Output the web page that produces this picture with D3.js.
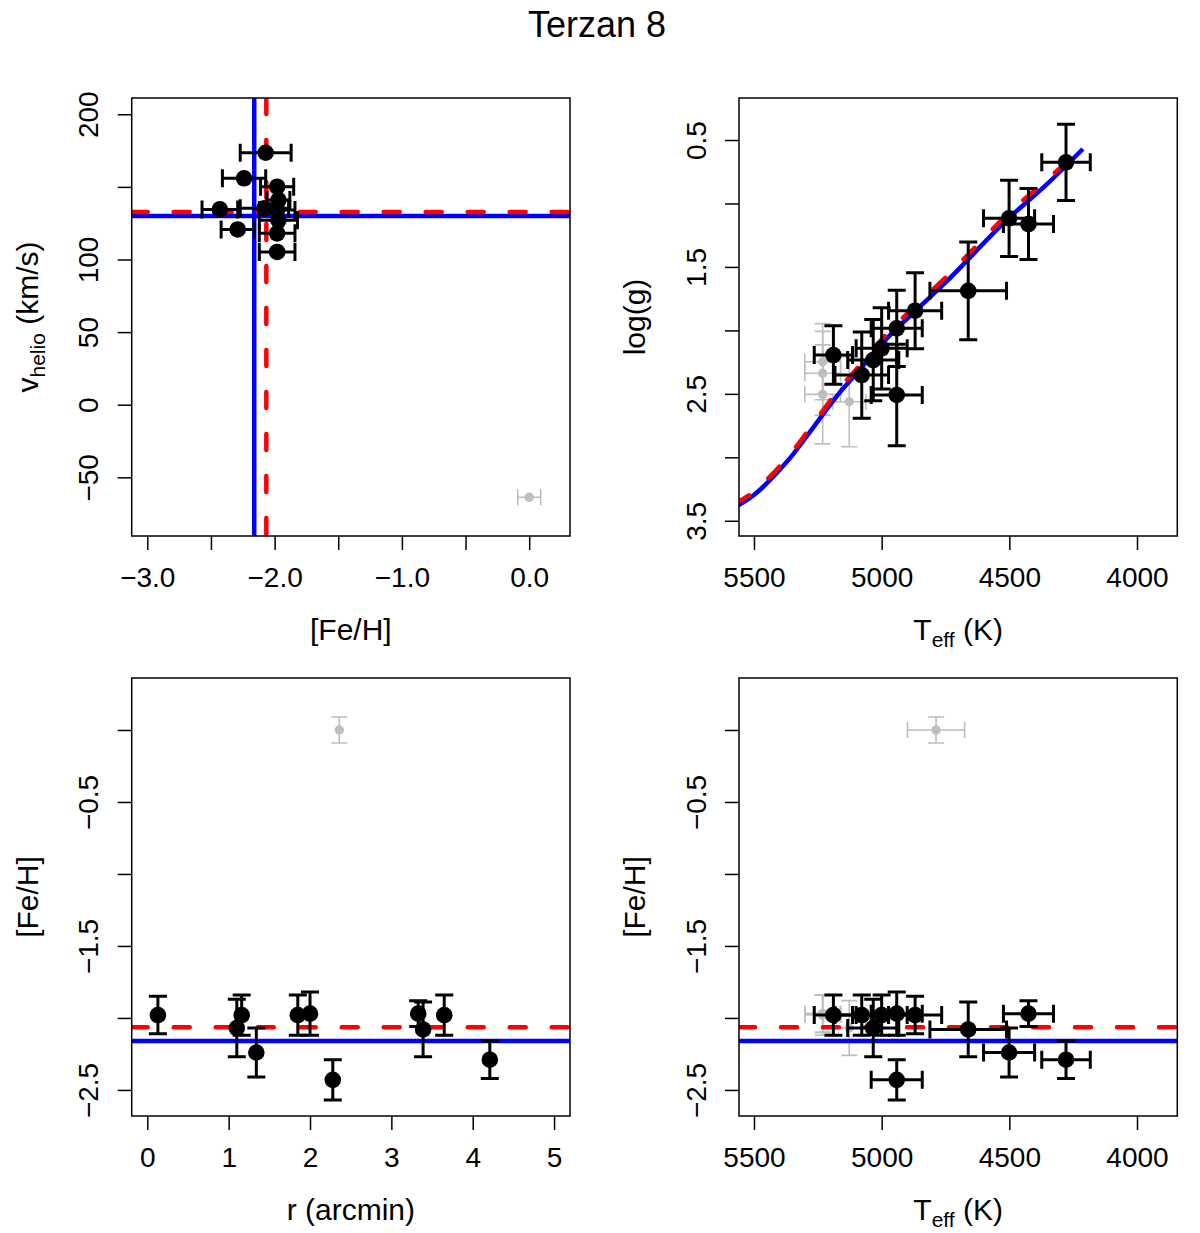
<!DOCTYPE html>
<html>
<head>
<meta charset="utf-8">
<script src="https://cdn.jsdelivr.net/npm/d3@7"></script>
<style>
  body { margin: 0; background: #fff; }
  text { font-family: "Liberation Sans", Arial, Helvetica, sans-serif; }
</style>
</head>
<body>
<svg id="chart" width="1200" height="1233"></svg>
<script>
// member stars (black)
const teff    = [4278, 4501, 4425, 4661, 4869, 4941, 5000, 5033, 5078, 5189, 4941];
const teffErr = [95, 100, 98, 150, 104, 100, 100, 100, 105, 75, 100];
const logg    = [0.676, 1.117, 1.162, 1.688, 1.845, 1.984, 2.141, 2.234, 2.352, 2.194, 2.509];
const loggErr = [0.30, 0.30, 0.28, 0.385, 0.30, 0.30, 0.32, 0.32, 0.34, 0.23, 0.40];
const feh     = [-2.29, -2.24, -1.97, -2.08, -1.98, -1.97, -1.98, -2.07, -1.98, -1.98, -2.43];
const fehErr  = [0.13, 0.17, 0.09, 0.19, 0.13, 0.15, 0.14, 0.20, 0.14, 0.14, 0.14];
const rad     = [4.21, 1.34, 3.33, 3.39, 0.13, 2.00, 1.85, 1.10, 1.16, 3.65, 2.28];
const vhelio  = [120.7, 155.9, 140.9, 135.2, 150.1, 127.0, 118.0, 173.5, 134.0, 105.2, 134.5];

// rejected stars (grey)
const gTeff    = [5231, 5231, 5231, 5127, 4787];
const gTeffErr = [70, 70, 70, 65, 112];
const gLogg    = [2.247, 2.338, 2.504, 2.562, null];
const gLoggErr = [0.30, 0.33, 0.39, 0.355, null];
const gFeh     = [-1.97, -1.97, -1.98, -2.07, 0.0];
const gFehErr  = [0.13, 0.13, 0.14, 0.19, 0.09];
const gRad     = [null, null, null, null, 2.36];
const gV       = [null, null, null, null, -63.7];

// cluster means (red dashed / blue solid)
const fehRed = -2.065, fehBlue = -2.16;
const vRed = 132.7, vBlue = 130.0;

// isochrones in the log(g) - Teff panel
const isoTeff  = [5574, 5516, 5457, 5359, 5261, 5163, 5097, 5034, 4967, 4877, 4744, 4510, 4360, 4212];
const isoLogg  = [3.392, 3.321, 3.219, 3.006, 2.746, 2.486, 2.336, 2.186, 2.037, 1.863, 1.611, 1.130, 0.862, 0.571];
const iso2Teff = [5574, 5516, 5457, 5359, 5261, 5163, 5097, 5034, 4967, 4877, 4744, 4510, 4360, 4227];
const iso2Logg = [3.365, 3.294, 3.192, 2.978, 2.716, 2.454, 2.302, 2.150, 2.000, 1.825, 1.572, 1.092, 0.825, 0.590];

// axis ticks
const fehXTicks = [-3, -2.5, -2, -1.5, -1, -0.5, 0], fehXLab = [-3, -2, -1, 0];
const vTicks = [-50, 0, 50, 100, 150, 200], vLab = [-50, 0, 50, 100, 200];
const teffTicks = [5500, 5000, 4500, 4000];
const loggTicks = [0.5, 1, 1.5, 2, 2.5, 3, 3.5], loggLab = [0.5, 1.5, 2.5, 3.5];
const rTicks = [0, 1, 2, 3, 4, 5];
const fehYTicks = [0, -0.5, -1, -1.5, -2, -2.5], fehYLab = [-0.5, -1.5, -2.5];

const svg = d3.select("#chart");
const BLACK = "#000", GREY = "#bebebe";
const LAB = 30;

svg.append("text")
  .attr("x", 597).attr("y", 37)
  .attr("text-anchor", "middle")
  .attr("font-size", 36)
  .text("Terzan 8");

const left = [131.7, 570], right = [739, 1177.3];
const top_ = [98, 536], bot = [678, 1116];

function makePanel(id, bx, by, sx, sy) {
  const g = svg.append("g");
  g.append("clipPath").attr("id", "clip-" + id)
    .append("rect")
    .attr("x", bx[0]).attr("y", by[0])
    .attr("width", bx[1] - bx[0]).attr("height", by[1] - by[0]);
  const plot = g.append("g").attr("clip-path", `url(#clip-${id})`);
  return { g, plot, bx, by, sx, sy };
}

function xAxis(p, ticks, labeled, fmt) {
  p.g.append("g")
    .attr("transform", `translate(0,${p.by[1]})`)
    .call(d3.axisBottom(p.sx).tickValues(ticks).tickSize(14).tickPadding(17)
      .tickFormat(d => labeled.includes(d) ? fmt(d) : ""))
    .call(a => a.select(".domain").remove())
    .call(a => a.selectAll("line").attr("stroke", BLACK).attr("stroke-width", 1.5))
    .call(a => a.selectAll("text").attr("fill", BLACK).attr("font-size", 28)
      .attr("font-family", null));
}

function yAxis(p, ticks, labeled, fmt) {
  p.g.append("g")
    .attr("transform", `translate(${p.bx[0]},0)`)
    .call(d3.axisLeft(p.sy).tickValues(ticks).tickSize(14)
      .tickFormat(d => labeled.includes(d) ? fmt(d) : ""))
    .call(a => a.select(".domain").remove())
    .call(a => a.selectAll("line").attr("stroke", BLACK).attr("stroke-width", 1.5))
    .call(a => a.selectAll("text").attr("fill", BLACK).attr("font-size", 28)
      .attr("font-family", null)
      .attr("x", 0).attr("y", -33.5).attr("dy", null)
      .attr("text-anchor", "middle")
      .attr("transform", "rotate(-90)"));
}

function frame(p) {
  p.g.append("rect")
    .attr("x", p.bx[0]).attr("y", p.by[0])
    .attr("width", p.bx[1] - p.bx[0]).attr("height", p.by[1] - p.by[0])
    .attr("fill", "none").attr("stroke", BLACK).attr("stroke-width", 1.5);
}

function xTitle(p, build) {
  const t = p.g.append("text")
    .attr("x", (p.bx[0] + p.bx[1]) / 2).attr("y", p.by[1] + 104)
    .attr("text-anchor", "middle").attr("font-size", LAB);
  build(t);
}

function yTitle(p, build) {
  const t = p.g.append("text")
    .attr("transform", `translate(${p.bx[0] - 94},${(p.by[0] + p.by[1]) / 2}) rotate(-90)`)
    .attr("text-anchor", "middle").attr("font-size", LAB);
  build(t);
}

function sub(main, subs, rest) {
  return t => {
    t.append("tspan").text(main);
    t.append("tspan").attr("font-size", 21).attr("dy", 7).text(subs);
    t.append("tspan").attr("dy", -7).text(rest);
  };
}

// points: arrays of {x, y, xe, ye}
function stars(p, pts, colour, lw, cap, rad) {
  const sx = p.sx, sy = p.sy;
  p.plot.append("g").selectAll("path")
    .data(pts)
    .join("path")
    .attr("fill", "none").attr("stroke", colour).attr("stroke-width", lw)
    .attr("d", d => {
      const cx = sx(d.x), cy = sy(d.y);
      let s = "";
      if (d.xe) {
        const a = sx(d.x - d.xe), b = sx(d.x + d.xe);
        s += `M${a},${cy}H${b}M${a},${cy - cap}V${cy + cap}M${b},${cy - cap}V${cy + cap}`;
      }
      if (d.ye) {
        const a = sy(d.y - d.ye), b = sy(d.y + d.ye);
        s += `M${cx},${a}V${b}M${cx - cap},${a}H${cx + cap}M${cx - cap},${b}H${cx + cap}`;
      }
      return s;
    });
  p.plot.append("g").selectAll("circle")
    .data(pts)
    .join("circle")
    .attr("cx", d => sx(d.x)).attr("cy", d => sy(d.y))
    .attr("r", rad).attr("fill", colour);
}

function hLine(p, v, colour, dashed) {
  p.plot.append("line")
    .attr("x1", p.bx[0]).attr("x2", p.bx[1])
    .attr("y1", p.sy(v)).attr("y2", p.sy(v))
    .attr("stroke", colour).attr("stroke-width", 4.5)
    .attr("stroke-dasharray", dashed ? "16,26" : null)
    .attr("stroke-linecap", dashed ? "round" : "butt");
}

function vLine(p, v, colour, dashed) {
  p.plot.append("line")
    .attr("y1", p.by[0]).attr("y2", p.by[1])
    .attr("x1", p.sx(v)).attr("x2", p.sx(v))
    .attr("stroke", colour).attr("stroke-width", 4.5)
    .attr("stroke-dasharray", dashed ? "16,26" : null)
    .attr("stroke-linecap", dashed ? "round" : "butt");
}

const idx = d3.range(teff.length);
const gIdx = d3.range(gTeff.length);
const fmt1 = d3.format(".1f"), fmtD = d3.format("d");

// ---- top left: v_helio vs [Fe/H]
const p1 = makePanel("p1", left, top_,
  d3.scaleLinear().domain([-3.1225, 0.3205]).range(left),
  d3.scaleLinear().domain([-90.4, 211.2]).range([top_[1], top_[0]]));
stars(p1, gIdx.filter(i => gV[i] != null).map(i => ({ x: gFeh[i], y: gV[i], xe: gFehErr[i] })), GREY, 1.6, 8, 4.7);
hLine(p1, vBlue, "#0000ff", false);
vLine(p1, fehBlue, "#0000ff", false);
hLine(p1, vRed, "#ff0000", true);
vLine(p1, fehRed, "#ff0000", true);
stars(p1, idx.map(i => ({ x: feh[i], y: vhelio[i], xe: fehErr[i] })), BLACK, 3, 9, 8.3);
frame(p1);
xAxis(p1, fehXTicks, fehXLab, fmt1);
yAxis(p1, vTicks, vLab, fmtD);
xTitle(p1, t => t.text("[Fe/H]"));
yTitle(p1, sub("v", "helio", " (km/s)"));

// ---- top right: log(g) vs Teff
const p2 = makePanel("p2", right, top_,
  d3.scaleLinear().domain([5558.7, 3842.2]).range(right),
  d3.scaleLinear().domain([0.169, 3.62]).range(top_));
stars(p2, gIdx.filter(i => gLogg[i] != null).map(i => ({ x: gTeff[i], y: gLogg[i], xe: gTeffErr[i], ye: gLoggErr[i] })), GREY, 1.6, 8, 4.7);
const iso = d3.line().curve(d3.curveCatmullRom).x(d => p2.sx(d[0])).y(d => p2.sy(d[1]));
p2.plot.append("path")
  .attr("d", iso(isoTeff.map((t, i) => [t, isoLogg[i]])))
  .attr("fill", "none").attr("stroke", "#0000ff").attr("stroke-width", 4.5);
p2.plot.append("path")
  .attr("d", iso(iso2Teff.map((t, i) => [t, iso2Logg[i]])))
  .attr("fill", "none").attr("stroke", "#ff0000").attr("stroke-width", 4.5)
  .attr("stroke-dasharray", "16,26").attr("stroke-linecap", "round");
stars(p2, idx.map(i => ({ x: teff[i], y: logg[i], xe: teffErr[i], ye: loggErr[i] })), BLACK, 3, 9, 8.3);
frame(p2);
xAxis(p2, teffTicks, teffTicks, fmtD);
yAxis(p2, loggTicks, loggLab, fmt1);
xTitle(p2, sub("T", "eff", " (K)"));
yTitle(p2, t => t.text("log(g)"));

// ---- bottom left: [Fe/H] vs r
const p3 = makePanel("p3", left, bot,
  d3.scaleLinear().domain([-0.192, 5.196]).range(left),
  d3.scaleLinear().domain([-2.681, 0.361]).range([bot[1], bot[0]]));
stars(p3, gIdx.filter(i => gRad[i] != null).map(i => ({ x: gRad[i], y: gFeh[i], ye: gFehErr[i] })), GREY, 1.6, 8, 4.7);
hLine(p3, fehBlue, "#0000ff", false);
hLine(p3, fehRed, "#ff0000", true);
stars(p3, idx.map(i => ({ x: rad[i], y: feh[i], ye: fehErr[i] })), BLACK, 3, 9, 8.3);
frame(p3);
xAxis(p3, rTicks, rTicks, fmtD);
yAxis(p3, fehYTicks, fehYLab, fmt1);
xTitle(p3, t => t.text("r (arcmin)"));
yTitle(p3, t => t.text("[Fe/H]"));

// ---- bottom right: [Fe/H] vs Teff
const p4 = makePanel("p4", right, bot,
  d3.scaleLinear().domain([5558.7, 3842.2]).range(right),
  d3.scaleLinear().domain([-2.681, 0.361]).range([bot[1], bot[0]]));
stars(p4, gIdx.map(i => ({ x: gTeff[i], y: gFeh[i], xe: gTeffErr[i], ye: gFehErr[i] })), GREY, 1.6, 8, 4.7);
hLine(p4, fehBlue, "#0000ff", false);
hLine(p4, fehRed, "#ff0000", true);
stars(p4, idx.map(i => ({ x: teff[i], y: feh[i], xe: teffErr[i], ye: fehErr[i] })), BLACK, 3, 9, 8.3);
frame(p4);
xAxis(p4, teffTicks, teffTicks, fmtD);
yAxis(p4, fehYTicks, fehYLab, fmt1);
xTitle(p4, sub("T", "eff", " (K)"));
yTitle(p4, t => t.text("[Fe/H]"));
</script>
</body>
</html>
